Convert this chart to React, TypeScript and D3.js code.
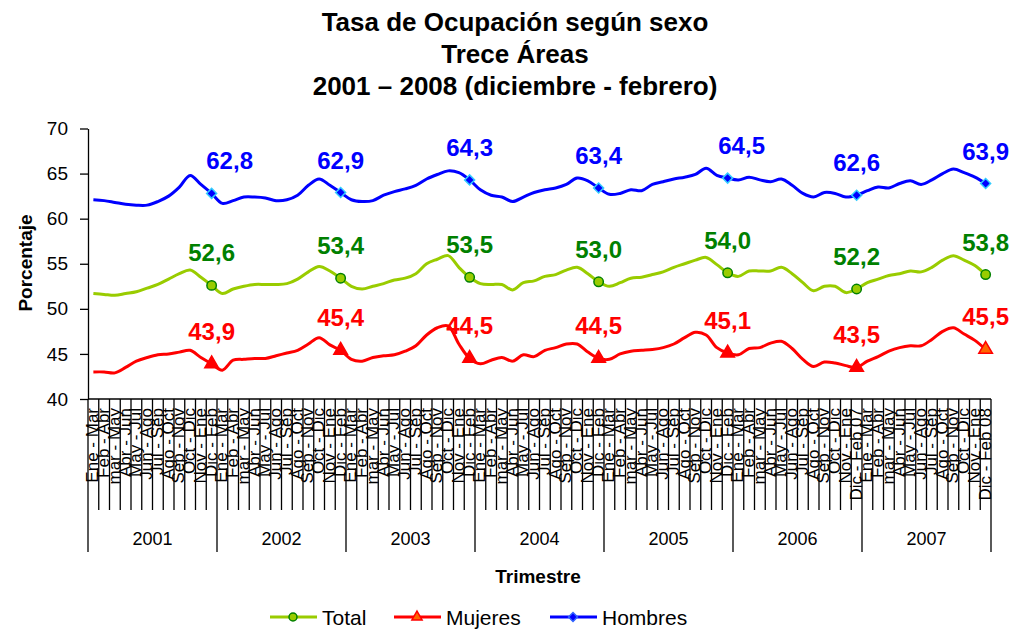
import { useEffect, useRef } from "react";
import * as d3 from "d3";

// rolling quarters, Ene-Mar 2001 .. Dic-Feb 08
const years = ["2001", "2002", "2003", "2004", "2005", "2006", "2007"];
const quarters = ["Ene - Mar", "Feb - Abr", "mar - May", "Abr - Jun", "May - Jul", "Jun - Ago",
  "Jul - Sep", "Ago - Oct", "Sep - Nov", "Oct - Dic", "Nov - Ene", "Dic - Feb"];
const lastLabels: Record<number, string> = { 71: "Dic - Feb 07", 83: "Dic - Feb 08" };

const total = [
  51.7, 51.6, 51.5, 51.7, 51.9, 52.3, 52.7, 53.3, 53.9, 54.3, 53.5, 52.6,
  51.7, 52.2, 52.5, 52.7, 52.7, 52.7, 52.8, 53.3, 54.1, 54.7, 54.2, 53.4,
  52.5, 52.2, 52.5, 52.8, 53.2, 53.4, 53.9, 55.0, 55.5, 55.9, 54.6, 53.5,
  52.8, 52.7, 52.7, 52.1, 52.9, 53.1, 53.6, 53.8, 54.3, 54.6, 53.9, 53.0,
  52.5, 52.9, 53.4, 53.5, 53.8, 54.1, 54.6, 55.0, 55.4, 55.7, 54.9, 54.0,
  53.6, 54.2, 54.2, 54.2, 54.6, 53.9, 52.9, 52.0, 52.5, 52.5, 51.8, 52.2,
  52.9, 53.3, 53.7, 53.9, 54.2, 54.1, 54.6, 55.4, 55.9, 55.4, 54.8, 53.8,
];
const mujeres = [
  43.0, 43.0, 42.9, 43.5, 44.2, 44.6, 44.9, 45.0, 45.2, 45.4, 44.6, 43.9,
  43.2, 44.3, 44.4, 44.5, 44.5, 44.8, 45.1, 45.4, 46.1, 46.8, 46.0, 45.4,
  44.4, 44.2, 44.6, 44.8, 44.9, 45.3, 45.9, 47.1, 47.9, 48.1, 46.1, 44.5,
  43.9, 44.3, 44.6, 44.2, 44.9, 44.7, 45.4, 45.7, 46.1, 46.1, 45.2, 44.5,
  44.4, 45.0, 45.3, 45.4, 45.5, 45.7, 46.1, 46.8, 47.4, 47.1, 45.7, 45.1,
  44.9, 45.6, 45.7, 46.2, 46.4, 45.6, 44.4, 43.6, 44.1, 44.0, 43.7, 43.5,
  44.2, 44.7, 45.3, 45.7, 45.9, 45.9, 46.6, 47.5, 47.9, 47.2, 46.5, 45.5,
];
const hombres = [
  62.1, 62.0, 61.8, 61.6, 61.5, 61.5, 61.9, 62.5, 63.5, 64.8, 63.8, 62.8,
  61.7, 62.0, 62.4, 62.4, 62.3, 62.0, 62.1, 62.6, 63.7, 64.4, 63.7, 62.9,
  62.1, 61.9, 62.0, 62.6, 63.0, 63.3, 63.7, 64.4, 64.9, 65.3, 65.1, 64.3,
  63.2, 62.6, 62.4, 61.9, 62.4, 62.9, 63.2, 63.4, 63.8, 64.5, 64.2, 63.4,
  62.7, 62.8, 63.2, 63.1, 63.8, 64.1, 64.4, 64.6, 64.9, 65.6, 64.8, 64.5,
  64.3, 64.6, 64.3, 64.1, 64.4, 63.7, 62.8, 62.4, 62.9, 62.8, 62.4, 62.6,
  63.1, 63.5, 63.4, 63.9, 64.2, 63.8, 64.3, 65.0, 65.5, 65.1, 64.6, 63.9,
];
const yTicks = [40, 45, 50, 55, 60, 65, 70];

const FONT = "Arial, 'Liberation Sans', sans-serif";

const series = [
  { name: "Total", values: total, line: "#99CC00", text: "#008000", sym: d3.symbolCircle, size: 70, legendSize: 50, fill: "#99CC00", stroke: "#008000" },
  { name: "Mujeres", values: mujeres, line: "#FF0000", text: "#FF0000", sym: d3.symbolTriangle, size: 80, legendSize: 45, fill: "#FF0000", stroke: "#FF0000" },
  { name: "Hombres", values: hombres, line: "#0000FF", text: "#0000FF", sym: d3.symbolSquare, size: 50, legendSize: 40, fill: "#0000FF", stroke: "#33CCFF" },
];
// small horizontal nudges of a few data labels (series, index) -> dx
const labelNudge: Record<string, number> = { "2-11": 18, "2-59": 14 };

export default function App() {
  const svgRef = useRef(null);
  const width = 1011;
  const height = 629;

  useEffect(() => {
    const svg = d3.select(svgRef.current);
    svg.selectAll("*").remove();

    const n = total.length;
    const x = d3.scaleBand().domain(d3.range(n).map(String)).range([88, 991]);
    const y = d3.scaleLinear().domain([40, 70]).range([399, 128.5]);
    const bw = x.bandwidth();
    const cx = (i) => x(String(i)) + bw / 2;

    // title
    const title = ["Tasa de Ocupación según sexo", "Trece Áreas", "2001 – 2008 (diciembre - febrero)"];
    svg.append("g").selectAll("text")
      .data(title)
      .join("text")
      .attr("x", 515)
      .attr("y", (d, i) => 31 + i * 32)
      .attr("text-anchor", "middle")
      .style("font-family", FONT)
      .style("font-weight", 700)
      .style("font-size", "26px")
      .text(d => d);

    // y axis
    const yAxis = svg.append("g")
      .attr("transform", "translate(88,0)")
      .call(d3.axisLeft(y).tickValues(yTicks).tickSize(8).tickSizeOuter(0).tickPadding(12));
    yAxis.select(".domain").attr("stroke", "#000").attr("stroke-width", 1.3);
    yAxis.selectAll("line").attr("stroke", "#000").attr("stroke-width", 1.3);
    yAxis.selectAll("text").style("font-family", FONT).style("font-size", "19px").attr("fill", "#000");

    svg.append("text")
      .attr("transform", "translate(32,263) rotate(-90)")
      .attr("text-anchor", "middle")
      .style("font-family", FONT)
      .style("font-weight", 700)
      .style("font-size", "19px")
      .text("Porcentaje");

    // x axis: baseline, category ticks, year dividers
    const axisG = svg.append("g").attr("stroke", "#000").attr("stroke-width", 1.3);
    axisG.append("line").attr("x1", 88).attr("x2", 991).attr("y1", 399).attr("y2", 399);
    const bounds = d3.range(n + 1);
    axisG.selectAll("line.tick")
      .data(bounds)
      .join("line")
      .attr("class", "tick")
      .attr("x1", i => (i < n ? x(String(i)) : 991))
      .attr("x2", i => (i < n ? x(String(i)) : 991))
      .attr("y1", 399)
      .attr("y2", i => (i % 12 === 0 ? 552 : 510));

    svg.append("g").selectAll("text")
      .data(d3.range(n))
      .join("text")
      .attr("transform", i => `translate(${cx(i) + 5},408) rotate(-90)`)
      .attr("text-anchor", "end")
      .style("font-family", FONT)
      .style("font-size", "17px")
      .text(i => lastLabels[i] || quarters[i % 12]);

    svg.append("g").selectAll("text")
      .data(years)
      .join("text")
      .attr("x", (d, k) => (cx(k * 12) - bw / 2 + cx(k * 12 + 11) + bw / 2) / 2)
      .attr("y", 545)
      .attr("text-anchor", "middle")
      .style("font-family", FONT)
      .style("font-size", "18px")
      .text(d => d);

    svg.append("text")
      .attr("x", 538)
      .attr("y", 583)
      .attr("text-anchor", "middle")
      .style("font-family", FONT)
      .style("font-weight", 700)
      .style("font-size", "19px")
      .text("Trimestre");

    // lines
    const line = d3.line()
      .x((d, i) => cx(i))
      .y(d => y(d))
      .curve(d3.curveCatmullRom);

    series.forEach((s) => {
      svg.append("path")
        .datum(s.values)
        .attr("fill", "none")
        .attr("stroke", s.line)
        .attr("stroke-width", 3)
        .attr("stroke-linejoin", "round")
        .attr("d", line);
    });

    // markers + labels at Dic-Feb points
    series.forEach((s, si) => {
      const pts = d3.range(11, n, 12);
      const g = svg.append("g");
      g.selectAll("path")
        .data(pts)
        .join("path")
        .attr("transform", i => `translate(${cx(i)},${y(s.values[i])})${s.sym === d3.symbolSquare ? " rotate(45)" : ""}`)
        .attr("d", d3.symbol().type(s.sym).size(s.size))
        .attr("fill", i => (si === 1 && i === n - 1 ? "#FF6600" : s.fill))
        .attr("stroke", s.stroke)
        .attr("stroke-width", 1.5);
      g.selectAll("text")
        .data(pts)
        .join("text")
        .attr("x", i => cx(i) + (labelNudge[`${si}-${i}`] || 0))
        .attr("y", i => y(s.values[i]) - 24)
        .attr("text-anchor", "middle")
        .attr("fill", s.text)
        .style("font-family", FONT)
        .style("font-weight", 700)
        .style("font-size", "24px")
        .text(i => s.values[i].toFixed(1).replace(".", ","));
    });

    // legend
    const legendX = [270, 394, 550];
    series.forEach((s, si) => {
      const lg = svg.append("g").attr("transform", `translate(${legendX[si]},617)`);
      lg.append("line").attr("x1", 0).attr("x2", 47).attr("stroke", s.line).attr("stroke-width", 3);
      lg.append("path")
        .attr("transform", `translate(23,0)${s.sym === d3.symbolSquare ? " rotate(45)" : ""}`)
        .attr("d", d3.symbol().type(s.sym).size(s.legendSize))
        .attr("fill", si === 1 ? "#FF6600" : s.fill)
        .attr("stroke", si === 2 ? "#3366FF" : s.stroke)
        .attr("stroke-width", 1.5);
      lg.append("text")
        .attr("x", 52)
        .attr("y", 8)
        .style("font-family", FONT)
        .style("font-size", "21px")
        .text(s.name);
    });
  }, []);

  return (
    <div>
      <svg
        ref={svgRef}
        width={width}
        height={height}
        style={{ position: "absolute", left: 0, top: 0, background: "#fff" }}
      />
    </div>
  );
}
